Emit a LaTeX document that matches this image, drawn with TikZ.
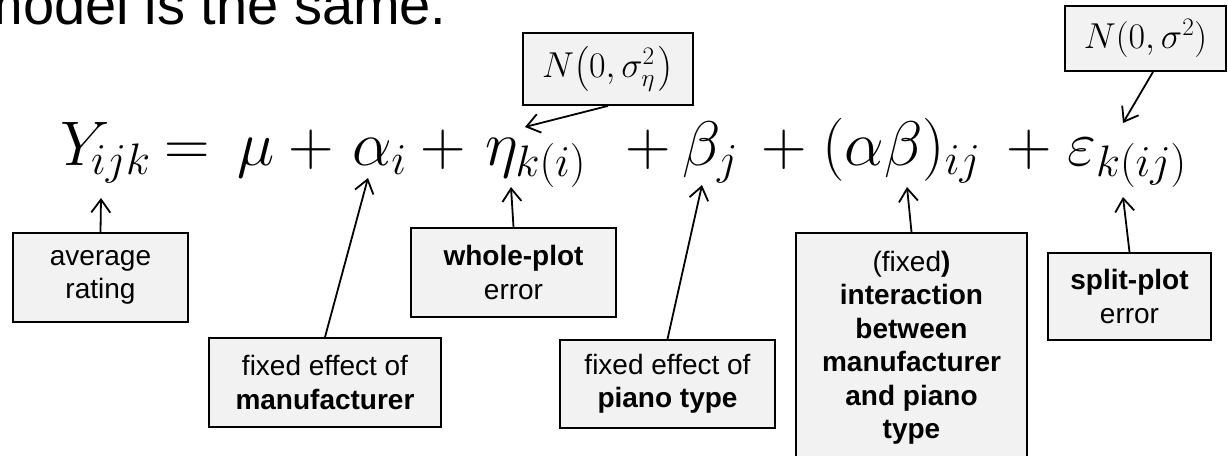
\RequirePackage{fix-cm}
\documentclass[tikz,border=0pt]{standalone}
\usepackage{amsmath}
\usepackage[no-math]{fontspec}
\setmainfont{Liberation Sans}
\usetikzlibrary{arrows.meta}
\definecolor{boxgray}{HTML}{F2F2F2}
\begin{document}
\begin{tikzpicture}[x=1pt,y=-1pt,
  box/.style={draw=black, line width=1.8pt, fill=boxgray, inner sep=0pt, align=center, font=\fontsize{28}{33.5}\selectfont},
  term/.style={anchor=base west, inner sep=0pt, font=\fontsize{63}{70}\selectfont},
  arr/.style={line width=1.8pt, -{Straight Barb[length=13pt,width=19pt,line width=1.8pt]}}]
\useasboundingbox (0,0) rectangle (1228,455);
% title
\node[anchor=base west, inner sep=0pt, font=\fontsize{56}{60}\selectfont] (title) at (-23.6,24) {model is the same.};
% equation terms
\node[term] (t1) at (60,165) {$Y_{\mkern-2mu ijk}$};
\node[term] (t2) at (164,165) {$=$};
\node[term] (t3) at (237,165) {$\mu$};
\node[term] (t4) at (288,165) {$+$};
\node[term] (t5) at (352,165) {$\alpha_i$};
\node[term] (t6) at (420,165) {$+$};
\node[term] (t7) at (485,165) {$\eta_{k(i)}$};
\node[term] (t8) at (625,165) {$+$};
\node[term] (t9) at (682,165) {$\beta_j$};
\node[term] (t10) at (761,165) {$+$};
\node[term] (t11) at (822,165) {$(\alpha\beta)_{ij}$};
\node[term] (t12) at (1006,165) {$+$};
\node[term] (t13) at (1067,165) {$\varepsilon_{k(ij)}$};
% arrow tips
\coordinate (tY) at (101,198);
\coordinate (tA) at (368,178);
\coordinate (tE) at (511,187);
\coordinate (tB) at (702,185);
\coordinate (tAB) at (907,187);
\coordinate (tS) at (1123,197);
\coordinate (tEta) at (525,127);
\coordinate (tS2) at (1123,123);
% boxes
\node[box, minimum width=175pt, minimum height=89pt] (avg) at (100.5,277.5) {average\\rating};
\node[box, minimum width=205pt, minimum height=89pt] (whole) at (513.5,272.5) {\textbf{whole-plot}\\error};
\node[box, minimum width=232pt, minimum height=89pt] (manu) at (325,382.5) {fixed effect of\\\textbf{manufacturer}};
\node[box, minimum width=215pt, minimum height=88pt] (piano) at (667.5,384) {fixed effect of\\\textbf{piano type}};
\node[box, minimum width=231pt, minimum height=230pt] (inter) at (911.5,348) {(fixed\textbf{)}\\\textbf{interaction}\\\textbf{between}\\\textbf{manufacturer}\\\textbf{and piano}\\\textbf{type}};
\node[box, minimum width=163pt, minimum height=87pt] (split) at (1129.5,296.5) {\textbf{split-plot}\\error};
\node[box, font=\fontsize{36}{40}\selectfont, minimum width=170pt, minimum height=72pt] (neta) at (608,69) {$N\bigl(0,\sigma_{\eta}^{2}\mkern2mu\bigr)$};
\node[box, font=\fontsize{36}{40}\selectfont, minimum width=161pt, minimum height=65pt] (nsig) at (1145.5,38.5) {$N(0,\sigma^2)$};
% connectors
\draw[arr] (avg.north) -- (tY);
\draw[arr] (manu.north) -- (tA);
\draw[arr] (whole.north) -- (tE);
\draw[arr] (piano.north) -- (tB);
\draw[arr] (inter.north) -- (tAB);
\draw[arr] (split.north) -- (tS);
\draw[arr] (neta.south) -- (tEta);
\draw[arr] ([xshift=7.5pt]nsig.south) -- (tS2);
\end{tikzpicture}
\end{document}
